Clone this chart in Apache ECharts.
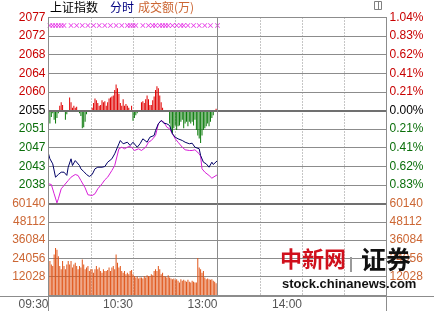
<!DOCTYPE html>
<html><head><meta charset="utf-8">
<script src="https://cdn.jsdelivr.net/npm/echarts@6/dist/echarts.min.js"></script>
<style>html,body{margin:0;padding:0;background:#fff;}#c{width:434px;height:311px;}</style>
</head><body><div id="c"></div>
<script>
// ---------- data ----------
const prevClose = 2055.4;
const rowStep = 4.27;
const priceTicks = ['2077','2072','2068','2064','2060','2055','2051','2047','2043','2038'];
const pctTicks = ['1.04%','0.83%','0.62%','0.41%','0.21%','0.00%','0.21%','0.41%','0.62%','0.83%'];
const volTicks = ['','12028','24056','36084','48112','60140'];
const timeTicks = ['09:30','','10:30','','13:00','','14:00','',''];

const priceMinutes = [0,1,3,5,7,9,11,13,14,16,17,19,20,22,23,25,27,29,31,33,35,38,40,42,45,47,50,51,53,56,58,60,63,65,67,70,72,75,76,78,80,82,84,86,88,90,92,95,97,100,102,104,107,108,110,112,114,116,117,120];
const priceValues  = [2045.46,2044.31,2043.16,2040.09,2040.71,2041.24,2041.24,2040.5,2042.38,2044.31,2042.77,2043.9,2043.53,2042.77,2042.0,2041.4,2040.71,2040.25,2040.71,2042.02,2042.38,2042.38,2042.54,2043.53,2044.31,2045.46,2047.76,2048.51,2047.76,2048.12,2047.37,2048.12,2046.97,2047.76,2048.90,2048.12,2049.27,2049.66,2050.81,2052.35,2053.10,2052.48,2052.35,2051.96,2050.05,2049.27,2048.90,2048.51,2048.12,2047.76,2047.89,2046.97,2046.61,2045.07,2043.53,2043.16,2042.38,2043.53,2043.0,2043.92];

const avgMinutes = [0,2,4,6,7,9,11,14,16,19,21,23,26,28,31,33,35,38,40,42,45,47,50,52,54,57,59,61,64,66,69,71,73,76,78,80,82,84,86,88,90,92,95,97,100,102,104,107,108,109,111,114,116,119,120];
const avgValues  = [2038.57,2038.41,2036.28,2034.2,2035.13,2037.42,2038.18,2039.33,2040.09,2040.71,2040.48,2039.33,2037.65,2036.05,2035.89,2036.28,2037.42,2038.57,2039.49,2040.09,2041.63,2042.77,2046.61,2046.97,2046.61,2047.14,2046.97,2046.22,2046.61,2046.22,2046.97,2048.12,2048.51,2049.66,2052.35,2053.10,2052.71,2051.57,2051.20,2050.05,2048.90,2048.12,2046.97,2046.38,2046.22,2046.22,2046.38,2045.46,2044.92,2042.02,2041.24,2040.48,2039.86,2040.48,2040.64];

// buy/sell strength bars around previous close (one per minute)
const strength = [-25,-14,-7,-3,-10,-14,-8,-3,5,9,6,0,-10,-4,0,14,9,3,5,3,4,0,-3,-6,-19,-18,-12,-4,0,0,
  0,3,8,13,11,8,5,6,11,9,10,5,9,13,14,15,16,22,28,24,18,8,5,12,5,7,5,3,0,5,
  -11,-8,-5,-3,0,0,9,10,8,12,16,12,6,6,11,15,22,26,24,16,9,3,0,0,0,0,-14,-21,-25,-19,
  -16,-21,-17,-16,-12,-10,-19,-14,-12,-17,-12,-14,-12,-16,-10,-21,-27,-30,-35,-27,-21,-19,-17,-14,-17,-12,-8,-5,0,2,3];

// turnover per minute (万)
const volume = [54700,22300,20100,19000,26600,30900,29800,25500,19000,16900,22300,19000,16900,20100,22300,20100,22300,18000,20100,
  21200,19000,16900,19000,18000,23400,20100,16900,18000,19000,
  15800,16900,16900,14700,16900,19000,16900,18000,15800,
  14700,16900,15800,15800,16400,18000,15800,18000,19000,
  16900,26600,21200,18000,19000,15800,14700,15800,13600,14700,
  13600,15800,16400,13600,12500,11500,12100,10800,11500,
  11500,10800,12500,11500,13000,12500,12100,13600,13000,15800,
  16900,15800,19000,16900,13600,14700,12500,12100,11500,
  13000,11500,10800,10400,10800,10000,10400,9300,8200,10400,
  9300,10000,9300,8700,10000,8700,8200,9300,8700,8200,
  8200,24400,18000,16900,14700,15800,11500,10400,10800,10400,
  10000,10400,9300,8700,7800,7100];

const markerMinutes = [1,3,5,7,9,11,16,20,24,28,32,36,40,44,48,52,56,58,60,62,67,71,74,76,79,81,83,85,88,91,94,96,99,103,107,111,115,120];

// ---------- chart ----------
const FONT = 'Liberation Sans';
const RED = '#c80000', GREEN = '#0a6e0a', ORANGE = '#cc6633', GRIDC = '#8c8c8c';
const priceMin = prevClose - 5 * rowStep, priceMax = prevClose + 5 * rowStep;
const markerLevel = priceMax - 0.43 * rowStep;
const L = 48.5, W = 338;

const chart = echarts.init(document.getElementById('c'), null, {renderer: 'canvas'});
const xCommon = {type: 'value', min: 0, max: 240, interval: 30,
  axisLine: {show: false}, axisTick: {show: false},
  splitLine: {show: true, lineStyle: {color: GRIDC, type: [1, 2], width: 1}}};
const labelBase = {fontFamily: FONT, fontSize: 12};

chart.setOption({
  animation: false,
  grid: [
    {left: L, top: 17.5, width: W, height: 186},
    {left: L, top: 203.5, width: W, height: 93}
  ],
  xAxis: [
    Object.assign({gridIndex: 0, axisLabel: {show: false}}, xCommon),
    Object.assign({gridIndex: 1, axisLabel: Object.assign({show: true, color: '#555', align: 'right', margin: 4,
      formatter: (v, i) => timeTicks[i] || ''}, labelBase)}, xCommon)
  ],
  yAxis: [
    {gridIndex: 0, type: 'value', min: 0, max: 10, interval: 1, position: 'left',
     axisLine: {show: false}, axisTick: {show: false},
     splitLine: {show: true, lineStyle: {color: GRIDC, width: 1}},
     axisLabel: Object.assign({margin: 3, formatter: (v) => priceTicks[10 - v] || '',
       color: (v) => v > 5 ? RED : (v == 5 ? '#000' : GREEN)}, labelBase)},
    {gridIndex: 0, type: 'value', min: 0, max: 10, interval: 1, position: 'right',
     axisLine: {show: false}, axisTick: {show: false}, splitLine: {show: false},
     axisLabel: Object.assign({margin: 3, formatter: (v) => pctTicks[10 - v] || '',
       color: (v) => v > 5 ? RED : (v == 5 ? '#000' : GREEN)}, labelBase)},
    {gridIndex: 0, type: 'value', min: priceMin, max: priceMax, show: false},
    {gridIndex: 0, type: 'value', min: -100, max: 100, show: false},
    {gridIndex: 1, type: 'value', min: 0, max: 60140, interval: 12028, position: 'left',
     axisLine: {show: false}, axisTick: {show: false},
     splitLine: {show: true, lineStyle: {color: GRIDC, width: 1}},
     axisLabel: Object.assign({margin: 3, color: ORANGE, formatter: (v, i) => volTicks[i] || ''}, labelBase)},
    {gridIndex: 1, type: 'value', min: 0, max: 60140, interval: 12028, position: 'right',
     axisLine: {show: false}, axisTick: {show: false}, splitLine: {show: false},
     axisLabel: Object.assign({margin: 3, color: ORANGE, formatter: (v, i) => volTicks[i] || ''}, labelBase)}
  ],
  series: [
    {type: 'bar', xAxisIndex: 0, yAxisIndex: 3, barWidth: 1, silent: true,
     data: strength.map((v, i) => [i, v]),
     itemStyle: {color: (p) => p.value[1] >= 0 ? '#e00000' : '#0a7a0a'}},
    {type: 'line', xAxisIndex: 0, yAxisIndex: 2, symbol: 'none', silent: true,
     data: avgMinutes.map((m, i) => [m, avgValues[i]]),
     lineStyle: {color: '#d81ed8', width: 1}},
    {type: 'line', xAxisIndex: 0, yAxisIndex: 2, symbol: 'none', silent: true,
     data: priceMinutes.map((m, i) => [m, priceValues[i]]),
     lineStyle: {color: '#000066', width: 1},
     markLine: {silent: true, symbol: 'none', label: {show: false},
       data: [
         {yAxis: prevClose, lineStyle: {color: '#707070', width: 2, type: 'solid'}},
         {xAxis: 120, lineStyle: {color: GRIDC, width: 1, type: 'solid'}}
       ]}},
    {type: 'scatter', xAxisIndex: 0, yAxisIndex: 2, silent: true,
     symbol: 'path://M0,1L1,0L5,4L9,0L10,1L6,5L10,9L9,10L5,6L1,10L0,9L4,5Z', symbolSize: 5,
     itemStyle: {color: '#e000e0'},
     data: markerMinutes.map((m) => [m, markerLevel])},
    {type: 'bar', xAxisIndex: 1, yAxisIndex: 4, barWidth: 1, silent: true,
     data: volume.map((v, i) => [i, v]),
     itemStyle: {color: '#e0561a'},
     markLine: {silent: true, symbol: 'none', label: {show: false},
       data: [
         {yAxis: 60140, lineStyle: {color: '#707070', width: 2, type: 'solid'}},
         {xAxis: 120, lineStyle: {color: GRIDC, width: 1, type: 'solid'}}
       ]}}
  ],
  graphic: [
    {type: 'line', z: 50, shape: {x1: L, y1: 17, x2: L, y2: 311}, style: {stroke: GRIDC, lineWidth: 1}},
    {type: 'line', z: 50, shape: {x1: L + W, y1: 17, x2: L + W, y2: 311}, style: {stroke: GRIDC, lineWidth: 1}},
    {type: 'line', z: 50, shape: {x1: 0, y1: 296.5, x2: 434, y2: 296.5}, style: {stroke: GRIDC, lineWidth: 1}},
    {type: 'text', z: 50, left: 50, top: 1, style: {text: '上证指数', fill: '#000', font: '12px "Noto Sans CJK SC"'}},
    {type: 'text', z: 50, left: 110, top: 1, style: {text: '分时', fill: '#000080', font: '12px "Noto Sans CJK SC"'}},
    {type: 'text', z: 50, left: 138, top: 1, style: {text: '成交额(万)', fill: ORANGE, font: '12px "Noto Sans CJK SC"'}},
    {type: 'rect', z: 50, shape: {x: 374.5, y: 1.5, width: 7, height: 8}, style: {stroke: '#808080', fill: '#fff', lineWidth: 1}},
    {type: 'line', z: 51, shape: {x1: 378.5, y1: 1.5, x2: 378.5, y2: 9.5}, style: {stroke: '#808080', lineWidth: 1}},
    {type: 'text', z: 60, left: 280, top: 248, style: {text: '中新网', fill: '#d0101c', font: 'bold 22px "Noto Sans CJK SC"'}},
    {type: 'rect', z: 60, shape: {x: 350, y: 257, width: 2, height: 15}, style: {fill: '#9a9a9a'}},
    {type: 'text', z: 60, left: 361, top: 247, style: {text: '证券', fill: '#111', font: 'bold 25px "Noto Sans CJK SC"'}},
    {type: 'text', z: 60, left: 282, top: 278, style: {text: 'stock.chinanews.com', fill: '#111', font: 'bold 13px "Liberation Sans"'}}
  ]
});
</script></body></html>
